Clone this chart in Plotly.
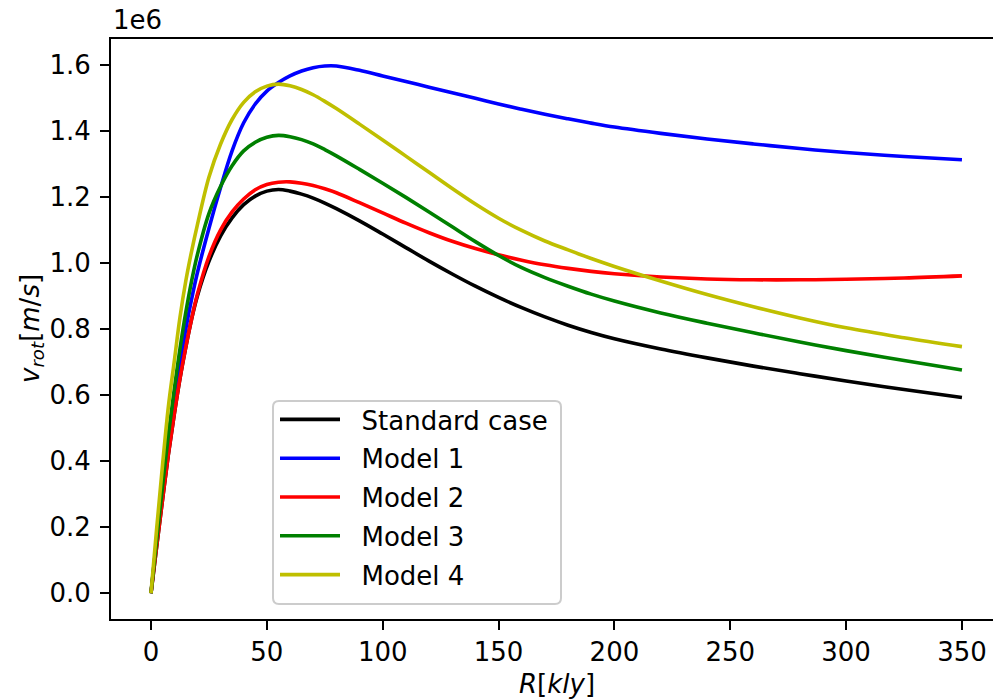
import plotly.graph_objects as go

# Radius in kly
R = [0, 2.5, 5, 7.5, 10, 12.5, 15, 17.5, 20, 25, 30, 35, 40, 45, 50, 55, 60, 65, 70, 75,
     80, 90, 100, 110, 120, 130, 140, 150, 160, 170, 180, 190, 200, 220, 240, 260, 280,
     300, 325, 350]

# Rotation velocity in units of 1e6 m/s
standard = [0, 0.145, 0.285, 0.42, 0.54, 0.65, 0.745, 0.83, 0.90, 1.005, 1.082, 1.137, 1.177,
            1.203, 1.218, 1.223, 1.218, 1.209, 1.197, 1.182, 1.165, 1.128, 1.088, 1.047, 1.006,
            0.967, 0.930, 0.896, 0.865, 0.837, 0.812, 0.790, 0.771, 0.740, 0.713, 0.688, 0.665,
            0.643, 0.617, 0.593]
model1 = [0, 0.165, 0.325, 0.47, 0.59, 0.70, 0.80, 0.89, 0.97, 1.105, 1.228, 1.34, 1.425,
          1.482, 1.521, 1.547, 1.567, 1.582, 1.592, 1.597, 1.597, 1.584, 1.567, 1.550, 1.533,
          1.516, 1.499, 1.482, 1.466, 1.451, 1.437, 1.424, 1.412, 1.393, 1.376, 1.361, 1.347,
          1.335, 1.323, 1.313]
model2 = [0, 0.145, 0.285, 0.42, 0.54, 0.65, 0.745, 0.83, 0.905, 1.02, 1.10, 1.155, 1.194,
          1.222, 1.238, 1.245, 1.246, 1.242, 1.235, 1.225, 1.213, 1.183, 1.152, 1.121, 1.092,
          1.066, 1.044, 1.025, 1.009, 0.995, 0.984, 0.975, 0.968, 0.958, 0.952, 0.9495, 0.9495,
          0.951, 0.955, 0.9615]
model3 = [0, 0.165, 0.325, 0.48, 0.615, 0.74, 0.85, 0.945, 1.025, 1.15, 1.232, 1.295, 1.34,
          1.366, 1.381, 1.387, 1.383, 1.374, 1.361, 1.344, 1.325, 1.284, 1.242, 1.199, 1.155,
          1.110, 1.065, 1.023, 0.986, 0.956, 0.930, 0.906, 0.885, 0.849, 0.818, 0.789, 0.761,
          0.735, 0.705, 0.676]
model4 = [0, 0.20, 0.39, 0.565, 0.70, 0.835, 0.945, 1.035, 1.115, 1.26, 1.36, 1.435, 1.487,
          1.519, 1.536, 1.542, 1.537, 1.526, 1.510, 1.490, 1.468, 1.421, 1.373, 1.324, 1.275,
          1.226, 1.179, 1.136, 1.099, 1.067, 1.040, 1.014, 0.990, 0.946, 0.905, 0.868, 0.834,
          0.804, 0.774, 0.747]

names = ["Standard case", "Model 1", "Model 2", "Model 3", "Model 4"]
colors = ["#000000", "#0000ff", "#ff0000", "#008000", "#bfbf00"]
series = [standard, model1, model2, model3, model4]

yticks = [0.0, 0.2, 0.4, 0.6, 0.8, 1.0, 1.2, 1.4, 1.6]
ytick_text = ["0.0", "0.2", "0.4", "0.6", "0.8", "1.0", "1.2", "1.4", "1.6"]
xticks = [0, 50, 100, 150, 200, 250, 300, 350]

FONT = "DejaVu Sans"
FS = 26

W, H = 993, 700
ML, MR, MT, MB = 111, 0, 39, 81
PW, PH = W - ML - MR, H - MT - MB


def px_x(x):
    return (x - ML) / PW


def px_y(y):
    return (H - MB - y) / PH


fig = go.Figure()
for i, (nm, col, ys) in enumerate(zip(names, colors, series)):
    fig.add_trace(go.Scatter(x=R, y=ys, mode="lines", name="\u00a0\u00a0" + nm,
                             legendgroup="g%d" % i,
                             line=dict(color=col, width=3.6, shape="spline", smoothing=1.0)))

# legend frame (rounded box)
x0, x1 = px_x(273), px_x(561)
y0, y1 = px_y(604), px_y(401)
rx, ry = 6 / PW, 6 / PH
frame = (f"M {x0+rx},{y0} L {x1-rx},{y0} Q {x1},{y0} {x1},{y0+ry} "
         f"L {x1},{y1-ry} Q {x1},{y1} {x1-rx},{y1} L {x0+rx},{y1} Q {x0},{y1} {x0},{y1-ry} "
         f"L {x0},{y0+ry} Q {x0},{y0} {x0+rx},{y0} Z")

fig.update_layout(
    width=W, height=H,
    margin=dict(l=ML, r=MR, t=MT, b=MB),
    paper_bgcolor="white", plot_bgcolor="white",
    font=dict(family=FONT, size=FS, color="black"),
    showlegend=True,
    legend=dict(x=px_x(275), y=px_y(396), xanchor="left", yanchor="top",
                bgcolor="rgba(0,0,0,0)", borderwidth=0,
                font=dict(family=FONT, size=FS, color="black"),
                itemwidth=60, tracegroupgap=2),
    shapes=[dict(type="path", xref="paper", yref="paper", path=frame,
                 fillcolor="rgba(255,255,255,0.8)", line=dict(color="#cccccc", width=2),
                 layer="above")],
    xaxis=dict(range=[-17.26, 363.4], tickvals=xticks, showgrid=False, zeroline=False,
               showline=True, linecolor="black", linewidth=2, mirror=True,
               ticks="outside", ticklen=9, tickwidth=2, tickcolor="black",
               ticklabelstandoff=0,
               tickfont=dict(family=FONT, size=FS, color="black")),
    yaxis=dict(range=[-0.0779, 1.6788], tickvals=yticks, ticktext=ytick_text,
               showgrid=False, zeroline=False,
               showline=True, linecolor="black", linewidth=2, mirror=False,
               ticks="outside", ticklen=9, tickwidth=2, tickcolor="black",
               ticklabelstandoff=4,
               tickfont=dict(family=FONT, size=FS, color="black")),
    annotations=[
        dict(text="1e6", xref="paper", yref="paper", x=0.0, y=1.0, xanchor="left",
             yanchor="bottom", yshift=2, showarrow=False,
             font=dict(family=FONT, size=FS, color="black")),
        dict(text="<i>R</i>[<i>kly</i>]", xref="paper", yref="paper", x=0.5, y=0,
             xshift=5, yshift=-48, xanchor="center", yanchor="top", showarrow=False,
             font=dict(family=FONT, size=FS, color="black")),
        dict(text="<i>v</i><sub><i>rot</i></sub>[<i>m</i>/<i>s</i>]", xref="paper", yref="paper",
             x=0, y=0.5, xshift=-80, xanchor="center", yanchor="middle", textangle=-90,
             showarrow=False, font=dict(family=FONT, size=FS, color="black")),
    ],
)

fig.write_html("out.html", config={"displayModeBar": False},
               post_script="document.body.style.margin='0';")
